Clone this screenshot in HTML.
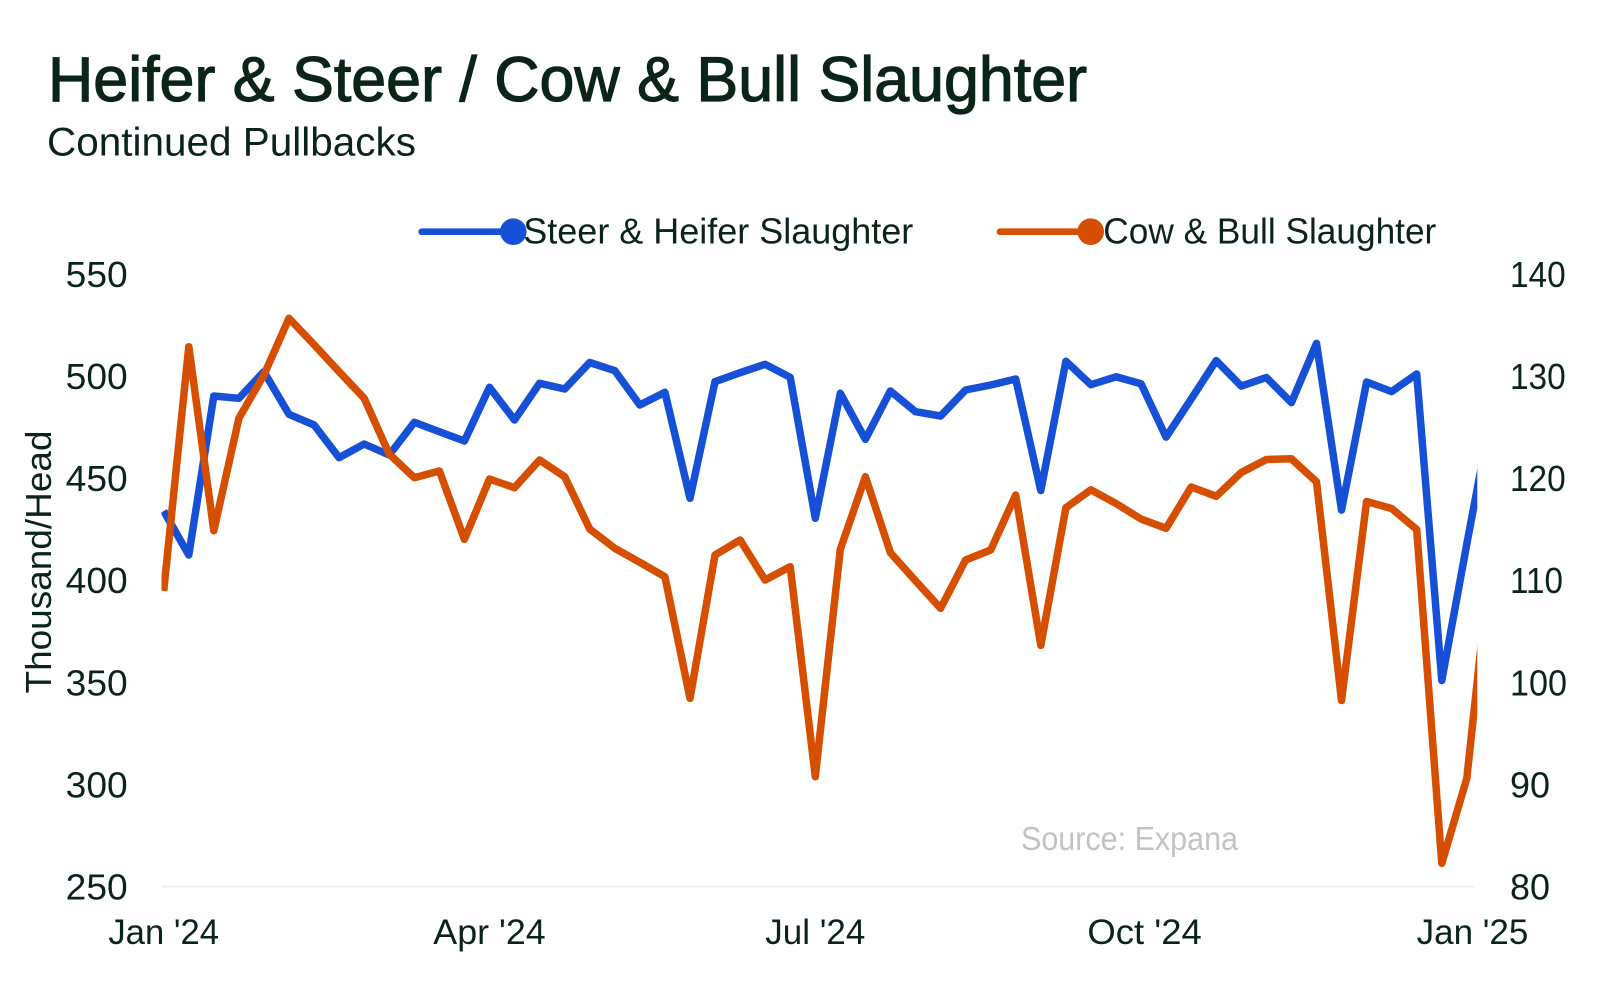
<!DOCTYPE html>
<html>
<head>
<meta charset="utf-8">
<style>
html,body{margin:0;padding:0;background:#fff;}
svg{display:block;}
text{font-family:"Liberation Sans", Arial, sans-serif;fill:#0b2418;}
</style>
</head>
<body>
<svg width="1601" height="990" viewBox="0 0 1601 990" xmlns="http://www.w3.org/2000/svg">
  <defs>
    <clipPath id="plot"><rect x="161.5" y="200" width="1315.8" height="760"/></clipPath>
  </defs>
  <rect x="0" y="0" width="1601" height="990" fill="#fff"/>

  <!-- Title -->
  <text x="48" y="101" font-size="63" textLength="1039" lengthAdjust="spacingAndGlyphs" stroke="#0b2418" stroke-width="1.2">Heifer &amp; Steer / Cow &amp; Bull Slaughter</text>
  <text x="47" y="155.5" font-size="40" textLength="369" lengthAdjust="spacingAndGlyphs">Continued Pullbacks</text>

  <!-- Legend -->
  <line x1="421.7" y1="231.7" x2="513.3" y2="231.7" stroke="#1550d6" stroke-width="6.7" stroke-linecap="round"/>
  <circle cx="513.3" cy="231.7" r="13.3" fill="#1550d6"/>
  <text x="523.3" y="243.3" font-size="36" textLength="390" lengthAdjust="spacingAndGlyphs">Steer &amp; Heifer Slaughter</text>
  <line x1="1000" y1="231.7" x2="1090.7" y2="231.7" stroke="#d64e00" stroke-width="6.7" stroke-linecap="round"/>
  <circle cx="1090.7" cy="231.7" r="13.3" fill="#d64e00"/>
  <text x="1103.3" y="243.3" font-size="36" textLength="333" lengthAdjust="spacingAndGlyphs">Cow &amp; Bull Slaughter</text>

  <!-- Y axis title -->
  <text transform="translate(51,562) rotate(-90)" text-anchor="middle" font-size="36" textLength="263" lengthAdjust="spacingAndGlyphs">Thousand/Head</text>

  <!-- Left tick labels -->
  <g font-size="36" text-anchor="end">
    <text x="127.7" y="287" textLength="62" lengthAdjust="spacingAndGlyphs">550</text>
    <text x="127.7" y="389.1" textLength="62" lengthAdjust="spacingAndGlyphs">500</text>
    <text x="127.7" y="491.1" textLength="62" lengthAdjust="spacingAndGlyphs">450</text>
    <text x="127.7" y="593.2" textLength="62" lengthAdjust="spacingAndGlyphs">400</text>
    <text x="127.7" y="695.3" textLength="62" lengthAdjust="spacingAndGlyphs">350</text>
    <text x="127.7" y="797.3" textLength="62" lengthAdjust="spacingAndGlyphs">300</text>
    <text x="127.7" y="899.4" textLength="62" lengthAdjust="spacingAndGlyphs">250</text>
  </g>

  <!-- Right tick labels -->
  <g font-size="36">
    <text x="1510" y="287" textLength="55.7" lengthAdjust="spacingAndGlyphs">140</text>
    <text x="1510" y="389.1" textLength="55.7" lengthAdjust="spacingAndGlyphs">130</text>
    <text x="1510" y="491.1" textLength="55.7" lengthAdjust="spacingAndGlyphs">120</text>
    <text x="1510" y="593.2" textLength="53" lengthAdjust="spacingAndGlyphs">110</text>
    <text x="1510" y="695.3" textLength="57" lengthAdjust="spacingAndGlyphs">100</text>
    <text x="1510" y="797.3" textLength="40" lengthAdjust="spacingAndGlyphs">90</text>
    <text x="1510" y="899.4" textLength="40" lengthAdjust="spacingAndGlyphs">80</text>
  </g>

  <!-- X axis baseline -->
  <line x1="161.7" y1="886.5" x2="1475" y2="886.5" stroke="#efefef" stroke-width="2"/>

  <!-- X tick labels -->
  <g font-size="35" text-anchor="middle">
    <text x="163.7" y="944" textLength="110.7" lengthAdjust="spacingAndGlyphs">Jan '24</text>
    <text x="489.5" y="944" textLength="112.4" lengthAdjust="spacingAndGlyphs">Apr '24</text>
    <text x="815.3" y="944" textLength="100" lengthAdjust="spacingAndGlyphs">Jul '24</text>
    <text x="1144.6" y="944" textLength="114.4" lengthAdjust="spacingAndGlyphs">Oct '24</text>
    <text x="1472.5" y="944" textLength="111.7" lengthAdjust="spacingAndGlyphs">Jan '25</text>
  </g>

  <!-- Source -->
  <text x="1021" y="850" font-size="33" fill="#c3c3c3" style="fill:#c3c3c3" textLength="217" lengthAdjust="spacingAndGlyphs">Source: Expana</text>

  <!-- Series -->
  <g clip-path="url(#plot)" fill="none" stroke-width="7.5" stroke-linejoin="round" stroke-linecap="butt">
    <polyline stroke="#1550d6" points="163.7,511 188.8,555 213.8,396 238.9,398.3 263.9,371.7 289,414.3 314.1,425 339.1,457.7 364.2,444 389.2,455 414.3,422.3 439.4,431.7 464.4,441 489.5,387.3 514.5,420 539.6,383.3 564.7,389 589.7,362.5 614.8,370.7 639.8,405 664.9,392.3 690,498.3 715,381.7 740.1,372.7 765.1,364.3 790.2,377.3 815.3,518.3 840.3,393.3 865.4,439.3 890.4,391 915.5,411.7 940.6,416 965.6,390 990.7,385 1015.7,379 1040.8,490.5 1065.9,361.3 1090.9,384.7 1116,376.8 1141,383.7 1166.1,437.1 1191.2,399 1216.2,360.6 1241.3,386.1 1266.3,377.5 1291.4,402.6 1316.5,343.4 1341.5,510.1 1366.6,382 1391.6,391.6 1416.7,374 1441.8,680.5 1466.8,544 1491.9,411"/>
    <polyline stroke="#d64e00" points="163.7,591 188.8,346.7 213.8,530.7 238.9,418.3 263.9,375 289,318.3 314.1,344.7 339.1,371.7 364.2,398.3 389.2,454 414.3,477.7 439.4,471 464.4,539.3 489.5,479 514.5,487.7 539.6,460 564.7,476.7 589.7,529 614.8,548.3 639.8,562.3 664.9,576.7 690,698.3 715,555 740.1,540 765.1,580 790.2,566.7 815.3,776.7 840.3,549.3 865.4,476.7 890.4,552.7 915.5,580.7 940.6,608.3 965.6,560 990.7,550 1015.7,495 1040.8,645.4 1065.9,507.7 1090.9,489.8 1116,503.5 1141,519 1166.1,528.3 1191.2,487 1216.2,496.3 1241.3,472.5 1266.3,459.5 1291.4,458.8 1316.5,481.8 1341.5,700.5 1366.6,501.5 1391.6,508.5 1416.7,529.5 1441.8,863.3 1466.8,778.3 1491.9,545"/>
  </g>
</svg>
</body>
</html>
